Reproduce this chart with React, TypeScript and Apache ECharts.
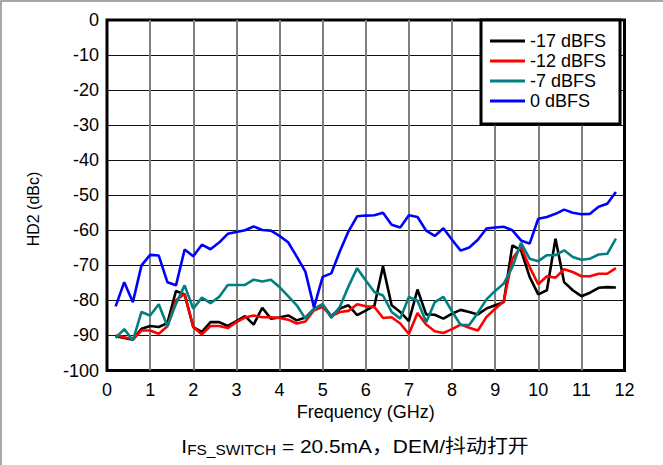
import { useEffect, useRef } from "react";
import * as echarts from "echarts";

const freqGHz = [
  0.2, 0.4, 0.6, 0.8, 1.0, 1.2, 1.4, 1.6, 1.8, 2.0,
  2.2, 2.4, 2.6, 2.8, 3.0, 3.2, 3.4, 3.6, 3.8, 4.0,
  4.2, 4.4, 4.6, 4.8, 5.0, 5.2, 5.4, 5.6, 5.8, 6.0,
  6.2, 6.4, 6.6, 6.8, 7.0, 7.2, 7.4, 7.6, 7.8, 8.0,
  8.2, 8.4, 8.6, 8.8, 9.0, 9.2, 9.4, 9.6, 9.8, 10.0,
  10.2, 10.4, 10.6, 10.8, 11.0, 11.2, 11.4, 11.6, 11.8,
];

const hd2Minus17 = [
  -90.2, -90.7, -91.2, -88.1, -87.3, -87.6, -86.5, -77.3, -78.3, -87.6,
  -89.0, -86.2, -86.2, -87.3, -85.9, -84.5, -86.9, -82.1, -85.2, -84.9,
  -84.3, -85.7, -84.9, -82.4, -81.2, -84.5, -82.3, -81.4, -84.2, -82.9,
  -81.5, -70.3, -81.4, -83.3, -85.9, -76.9, -84.0, -84.1, -85.2, -83.8,
  -82.7, -83.3, -84.0, -82.3, -81.4, -80.5, -64.3, -65.7, -73.3, -78.3,
  -77.1, -62.4, -74.8, -77.1, -78.8, -77.8, -76.4, -76.2, -76.3,
];

const hd2Minus12 = [
  -90.0, -90.5, -91.1, -88.6, -88.6, -89.5, -87.4, -80.0, -78.1, -87.6,
  -89.7, -87.3, -87.3, -87.9, -86.2, -84.9, -84.3, -84.8, -84.8, -85.0,
  -85.5, -86.6, -86.0, -82.8, -81.9, -84.5, -83.3, -83.0, -81.1, -81.7,
  -81.9, -85.0, -84.8, -86.6, -89.6, -83.6, -86.9, -88.8, -89.3, -88.2,
  -86.9, -87.8, -88.6, -84.7, -82.4, -80.3, -68.1, -64.8, -70.5, -75.4,
  -73.1, -73.5, -71.1, -71.9, -73.1, -73.1, -72.4, -72.4, -70.8,
];

const hd2Minus7 = [
  -90.7, -88.2, -91.4, -83.3, -84.3, -81.1, -87.4, -81.0, -75.7, -82.4,
  -79.2, -80.8, -79.0, -75.6, -75.6, -75.6, -74.1, -74.6, -74.1, -76.2,
  -78.8, -81.4, -85.2, -82.4, -81.1, -85.0, -81.8, -76.0, -70.8, -74.3,
  -77.6, -78.6, -83.3, -85.2, -79.0, -80.1, -86.2, -80.5, -79.0, -83.1,
  -87.0, -87.0, -83.5, -79.7, -77.3, -75.2, -70.5, -63.6, -68.1, -68.8,
  -67.1, -67.1, -65.7, -67.6, -68.4, -68.1, -66.9, -66.7, -62.4,
];

const hd2Zero = [
  -81.7, -74.8, -80.5, -70.0, -67.0, -67.2, -74.8, -75.7, -65.5, -67.4,
  -64.1, -65.4, -63.5, -61.0, -60.5, -60.0, -58.9, -59.9, -60.1, -61.6,
  -63.4, -67.5, -71.8, -82.0, -73.3, -72.3, -66.0, -60.3, -56.0, -55.8,
  -55.7, -55.0, -58.4, -59.2, -55.7, -56.2, -60.1, -61.6, -59.4, -62.7,
  -65.8, -64.9, -62.7, -59.5, -59.2, -59.0, -60.0, -62.9, -63.8, -56.7,
  -56.2, -55.3, -54.1, -55.0, -55.4, -55.3, -53.3, -52.4, -49.1,
];

const seriesNames = ["-17 dBFS", "-12 dBFS", "-7 dBFS", "0 dBFS"];
const seriesColors = ["#000000", "#ff0000", "#008080", "#0000ff"];

const xAxisName = "Frequency (GHz)";
const yAxisName = "HD2 (dBc)";
const captionMain = "I";
const captionSub = "FS_SWITCH";
const captionRest = " = 20.5mA，DEM/抖动打开";

export default function App() {
  const ref = useRef<HTMLDivElement>(null);

  useEffect(() => {
    document.body.style.margin = "0";
    const el = ref.current;
    if (!el) return;
    const chart = echarts.init(el, null, { renderer: "svg" });
    const FONT = "'Liberation Sans', Arial, 'Noto Sans CJK SC', sans-serif";
    const seriesData = [hd2Minus17, hd2Minus12, hd2Minus7, hd2Zero];

    chart.setOption({
      animation: false,
      backgroundColor: "#ffffff",
      textStyle: { fontFamily: FONT },
      grid: {
        left: 107,
        top: 20,
        right: 38.5,
        bottom: 94.5,
        show: true,
        borderColor: "#000000",
        borderWidth: 3,
        backgroundColor: "#ffffff",
        containLabel: false,
        outerBoundsMode: "none",
      },
      legend: {
        orient: "vertical",
        left: 481,
        top: 20,
        padding: [11, 14, 13, 9],
        itemGap: 0,
        itemWidth: 35,
        itemHeight: 3,
        itemTextGap: 9,
        icon: "rect",
        backgroundColor: "#ffffff",
        borderColor: "#000000",
        borderWidth: 3,
        textStyle: { fontSize: 18, color: "#000000", fontFamily: FONT, lineHeight: 20 },
        data: seriesNames,
      },
      xAxis: {
        type: "value",
        min: 0,
        max: 12,
        interval: 1,
        name: xAxisName,
        nameLocation: "middle",
        nameGap: 32,
        nameTextStyle: { fontSize: 18, color: "#000000", fontFamily: FONT },
        axisLine: { show: false },
        axisTick: { show: false },
        axisLabel: { fontSize: 18, color: "#000000", margin: 10, fontFamily: FONT },
        splitLine: {
          show: true,
          showMinLine: false,
          showMaxLine: false,
          lineStyle: { color: "#7f7f7f", width: 2 },
        },
      },
      yAxis: {
        type: "value",
        min: -100,
        max: 0,
        interval: 10,
        axisLine: { show: false },
        axisTick: { show: false },
        axisLabel: { fontSize: 18, color: "#000000", margin: 8, fontFamily: FONT },
        splitLine: {
          show: true,
          showMinLine: false,
          showMaxLine: false,
          lineStyle: { color: "#111111", width: 1.2 },
        },
      },
      graphic: [
        {
          type: "rect",
          silent: true,
          shape: { x: 1, y: 1, width: 720, height: 520 },
          style: { fill: "none", stroke: "#8a8a8a", lineWidth: 1.5 },
          z: 100,
        },
        {
          type: "text",
          x: 33,
          y: 209,
          rotation: Math.PI / 2,
          style: {
            text: yAxisName,
            fontSize: 16,
            fontFamily: FONT,
            fill: "#000000",
            align: "center",
            verticalAlign: "middle",
          },
        },
        {
          type: "text",
          x: 355,
          y: 446,
          scaleX: 1.1,
          style: {
            text: `{m|${captionMain}}{s|${captionSub}}{m|${captionRest}}`,
            align: "center",
            verticalAlign: "middle",
            fill: "#000000",
            rich: {
              m: { fontSize: 19, fontFamily: FONT, fill: "#000000", lineHeight: 22, verticalAlign: "middle" },
              s: { fontSize: 14, fontFamily: FONT, fill: "#000000", lineHeight: 9, verticalAlign: "bottom" },
            },
          },
        },
      ],
      series: seriesNames.map((name, i) => ({
        name,
        type: "line",
        data: freqGHz.map((f, j) => [f, seriesData[i][j]]),
        symbol: "none",
        lineStyle: { color: seriesColors[i], width: 2.6 },
        itemStyle: { color: seriesColors[i] },
        z: 2 + i,
      })),
    });

    return () => chart.dispose();
  }, []);

  return (
    <div
      ref={ref}
      style={{ position: "absolute", left: 0, top: 0, width: 663, height: 465, background: "#ffffff" }}
    />
  );
}
